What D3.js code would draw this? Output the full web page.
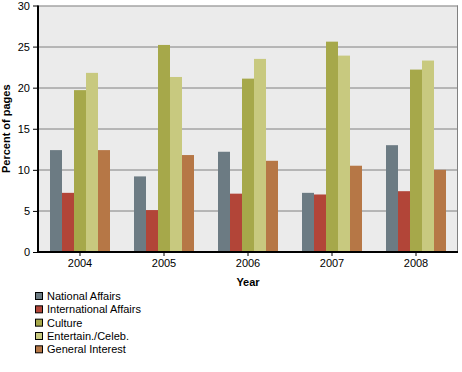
<html>
<head>
<script src="https://cdn.jsdelivr.net/npm/d3@7"></script>
<style>
  body { margin: 0; background: #fff; }
  text { font-family: "Liberation Sans", Arial, sans-serif; }
</style>
</head>
<body>
<svg></svg>
<script>
// chart data
var years = ["2004", "2005", "2006", "2007", "2008"];
var seriesNames = ["National Affairs", "International Affairs", "Culture", "Entertain./Celeb.", "General Interest"];
var nationalAffairs = [12.4, 9.2, 12.2, 7.2, 13.0];
var internationalAffairs = [7.2, 5.1, 7.1, 7.0, 7.4];
var culture = [19.7, 25.2, 21.1, 25.6, 22.2];
var entertainCeleb = [21.8, 21.3, 23.5, 23.9, 23.3];
var generalInterest = [12.4, 11.8, 11.1, 10.5, 10.0];
var yTicks = [0, 5, 10, 15, 20, 25, 30];

var seriesValues = [nationalAffairs, internationalAffairs, culture, entertainCeleb, generalInterest];
var colors = ["#6c7b83", "#b24538", "#a6a84a", "#c8c97f", "#b67746"];

var width = 462, height = 372;
var margin = {top: 5.5, right: 4, left: 38, bottom: 120};
var plotW = width - margin.left - margin.right;   // 420
var plotH = 252 - margin.top;

var svg = d3.select("svg").attr("width", width).attr("height", height);

var x = d3.scaleBand().domain(years).range([0, plotW]).paddingInner(0).paddingOuter(0);
var xs = d3.scaleBand().domain(d3.range(seriesNames.length)).range([12, x.bandwidth() - 12]);
var y = d3.scaleLinear().domain([0, 30]).range([plotH, 0]);

var g = svg.append("g").attr("transform", "translate(" + margin.left + "," + margin.top + ")");

// plot background
g.append("rect")
  .attr("x", 0).attr("y", 0)
  .attr("width", plotW).attr("height", plotH)
  .attr("fill", "#ebebeb");

// gridlines
g.selectAll(".grid")
  .data(yTicks.filter(function(d) { return d > 0; }))
  .enter().append("line")
  .attr("x1", 0).attr("x2", plotW)
  .attr("y1", function(d) { return Math.round(y(d)) + 0.5; })
  .attr("y2", function(d) { return Math.round(y(d)) + 0.5; })
  .attr("stroke", "#808080").attr("stroke-width", 1);

// right border
g.append("line")
  .attr("x1", plotW - 0.5).attr("x2", plotW - 0.5)
  .attr("y1", 0).attr("y2", plotH)
  .attr("stroke", "#808080");

// bars
var groups = g.selectAll(".year")
  .data(years)
  .enter().append("g")
  .attr("transform", function(d) { return "translate(" + x(d) + ",0)"; });

groups.selectAll("rect")
  .data(function(d, i) { return seriesValues.map(function(s, j) { return {s: j, v: s[i]}; }); })
  .enter().append("rect")
  .attr("x", function(d) { return xs(d.s); })
  .attr("y", function(d) { return y(d.v); })
  .attr("width", xs.bandwidth())
  .attr("height", function(d) { return plotH - y(d.v); })
  .attr("fill", function(d) { return colors[d.s]; });

// y axis
var yAxis = g.append("g")
  .call(d3.axisLeft(y).tickValues(yTicks).tickSize(5).tickPadding(3));
yAxis.select(".domain").remove();
yAxis.selectAll(".tick line").attr("stroke", "#000");
yAxis.selectAll("text").attr("font-size", "11px").attr("fill", "#000")
  .attr("font-family", "Liberation Sans, Arial, sans-serif");
g.append("line")
  .attr("x1", 0).attr("x2", 0)
  .attr("y1", 0).attr("y2", plotH + 1)
  .attr("stroke", "#000").attr("stroke-width", 2);

// x axis
var xAxis = g.append("g")
  .attr("transform", "translate(0," + plotH + ")")
  .call(d3.axisBottom(x).tickSize(4).tickPadding(3));
xAxis.select(".domain").remove();
xAxis.selectAll(".tick line").attr("stroke", "#000");
xAxis.selectAll("text").attr("font-size", "11px").attr("fill", "#000")
  .attr("font-family", "Liberation Sans, Arial, sans-serif");
g.append("line")
  .attr("x1", -1).attr("x2", plotW)
  .attr("y1", plotH).attr("y2", plotH)
  .attr("stroke", "#000").attr("stroke-width", 2);

// axis titles
svg.append("text")
  .attr("transform", "translate(10," + (margin.top + plotH / 2) + ")rotate(-90)")
  .attr("text-anchor", "middle")
  .attr("font-size", "11px").attr("font-weight", "bold")
  .text("Percent of pages");

svg.append("text")
  .attr("x", margin.left + plotW / 2)
  .attr("y", 286)
  .attr("text-anchor", "middle")
  .attr("font-size", "11px").attr("font-weight", "bold")
  .text("Year");

// legend
var legend = svg.selectAll(".legend")
  .data(seriesNames)
  .enter().append("g")
  .attr("transform", function(d, i) { return "translate(35," + (296 + i * 13.33) + ")"; });

legend.append("rect")
  .attr("x", 0.5).attr("y", -3.5)
  .attr("width", 7).attr("height", 7)
  .attr("fill", function(d, i) { return colors[i]; })
  .attr("stroke", "#000").attr("stroke-width", 1);

legend.append("text")
  .attr("x", 12).attr("y", 4)
  .attr("font-size", "11px")
  .text(function(d) { return d; });
</script>
</body>
</html>
